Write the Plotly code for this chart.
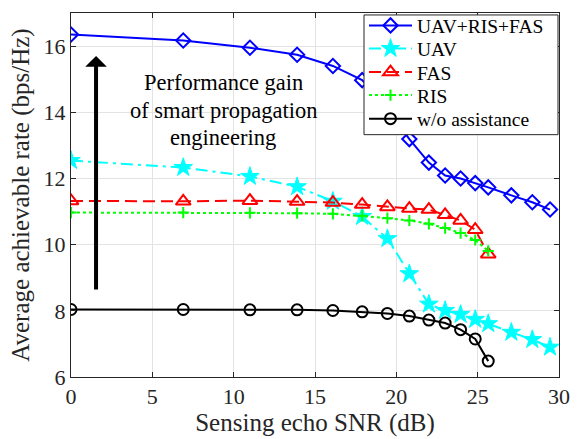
import plotly.graph_objects as go

# ---- data ----
snr_long = [0, 6.9, 11.0, 13.9, 16.1, 17.9, 19.45, 20.8, 22.0, 23.0, 23.95, 24.85, 25.65, 27.07, 28.36, 29.45]
snr_short = [0, 6.9, 11.0, 13.9, 16.1, 17.9, 19.45, 20.8, 22.0, 23.0, 23.95, 24.85, 25.65]

rate_uav_ris_fas = [16.35, 16.17, 15.95, 15.74, 15.40, 14.97, 14.10, 13.19, 12.48, 12.09, 12.00, 11.86, 11.73, 11.49, 11.28, 11.06]
rate_uav = [12.54, 12.33, 12.06, 11.75, 11.31, 10.85, 10.18, 9.12, 8.20, 8.01, 7.89, 7.74, 7.61, 7.35, 7.13, 6.90]
rate_fas = [11.32, 11.31, 11.33, 11.30, 11.27, 11.21, 11.14, 11.09, 11.06, 10.90, 10.73, 10.45, 9.71]
rate_ris = [10.97, 10.97, 10.96, 10.95, 10.93, 10.87, 10.80, 10.73, 10.63, 10.50, 10.35, 10.14, 9.81]
rate_none = [8.04, 8.04, 8.03, 8.03, 8.01, 7.97, 7.92, 7.84, 7.72, 7.63, 7.43, 7.15, 6.48]

x_ticks = [0, 5, 10, 15, 20, 25, 30]
y_ticks = [6, 8, 10, 12, 14, 16]

series_names = ["UAV+RIS+FAS", "UAV", "FAS", "RIS", "w/o assistance"]
annotation_lines = ["Performance gain", "of smart propagation", "engineering"]

FONT = "Liberation Serif, Times New Roman, serif"
AX = "#262626"

# plot-area geometry in pixels (for positioning decorations)
W, H = 585, 439
L, R, T, B = 71, 26, 6, 62
PW, PH = W - L - R, H - T - B


def px_to_paper_x(px):
    return (px - L) / PW


def px_to_paper_y(py):
    return (H - B - py) / PH


fig = go.Figure()

styles = [
    dict(line=dict(color="#0000ff", width=2),
         marker=dict(symbol="diamond-open", size=11, color="#0000ff", line=dict(width=2, color="#0000ff"))),
    dict(line=dict(color="#00ffff", width=2, dash="12px,5px,3px,5px"),
         marker=dict(symbol="star", size=14, color="#00ffff", line=dict(width=1, color="#00ffff"))),
    dict(line=dict(color="#ff0000", width=2, dash="12px,6px"),
         marker=dict(symbol="triangle-up-open", size=13, color="#ff0000", line=dict(width=2, color="#ff0000"))),
    dict(line=dict(color="#00ff00", width=2, dash="3px,3px"),
         marker=dict(symbol="cross-thin-open", size=8, color="#00ff00", line=dict(width=2, color="#00ff00"))),
    dict(line=dict(color="#000000", width=2),
         marker=dict(symbol="circle-open", size=11, color="#000000", line=dict(width=2, color="#000000"))),
]
xs = [snr_long, snr_long, snr_short, snr_short, snr_short]
ys = [rate_uav_ris_fas, rate_uav, rate_fas, rate_ris, rate_none]
legend_ids = ["legend", "legend2", "legend3", "legend4", "legend5"]

for i in range(5):
    fig.add_trace(go.Scatter(x=xs[i], y=ys[i], name=series_names[i], mode="lines+markers",
                             legend=legend_ids[i], **styles[i]))

# arrow
fig.add_annotation(x=1.54, y=15.7, ax=1.54, ay=8.60, xref="x", yref="y", axref="x", ayref="y",
                   showarrow=True, arrowhead=1, arrowwidth=4, arrowsize=0.9, arrowcolor="black",
                   text="", standoff=0)
# text lines
for txt, py in zip(annotation_lines, [77, 105, 133]):
    fig.add_annotation(x=px_to_paper_x(223), y=px_to_paper_y(py), xref="paper", yref="paper",
                       showarrow=False, text=txt, xanchor="center", yanchor="middle",
                       font=dict(family=FONT, size=22.5, color="black"))

# legend box
fig.add_shape(type="rect", xref="paper", yref="paper",
              x0=px_to_paper_x(364), x1=px_to_paper_x(558),
              y0=px_to_paper_y(130), y1=px_to_paper_y(8),
              fillcolor="white", opacity=1, line=dict(color=AX, width=1), layer="above")

axis_common = dict(showline=True, linecolor=AX, linewidth=1, mirror="ticks", ticks="inside",
                   ticklen=5, tickcolor=AX, showgrid=True, gridcolor="#e3e3e3", gridwidth=1,
                   zeroline=False, automargin=False, tickfont=dict(family=FONT, size=22, color=AX))

legend_rows = [19, 42.5, 66.5, 90, 114]
legend_layout = {}
for lid, py in zip(legend_ids, legend_rows):
    legend_layout[lid] = dict(x=px_to_paper_x(364), y=px_to_paper_y(py), xanchor="left", yanchor="middle",
                              bgcolor="rgba(0,0,0,0)", borderwidth=0, itemwidth=43,
                              font=dict(family=FONT, size=19.5, color="black"))

fig.update_layout(
    width=W, height=H,
    margin=dict(l=L, r=R, t=T, b=B),
    paper_bgcolor="white", plot_bgcolor="white",
    font=dict(family=FONT, color=AX),
    xaxis=dict(range=[0, 30], tickvals=x_ticks, ticktext=[str(v) for v in x_ticks],
               title=dict(text="Sensing echo SNR (dB)", font=dict(family=FONT, size=25, color=AX), standoff=2),
               **axis_common),
    yaxis=dict(range=[6, 17], tickvals=y_ticks, ticktext=[str(v) for v in y_ticks],
               title=dict(text="Average achievable rate (bps/Hz)", font=dict(family=FONT, size=25, color=AX), standoff=6),
               **axis_common),
    showlegend=True,
    **legend_layout,
)

fig.write_html("out.html", config={"displayModeBar": False},
               post_script="document.body.style.margin='0';document.body.style.overflow='hidden';")
